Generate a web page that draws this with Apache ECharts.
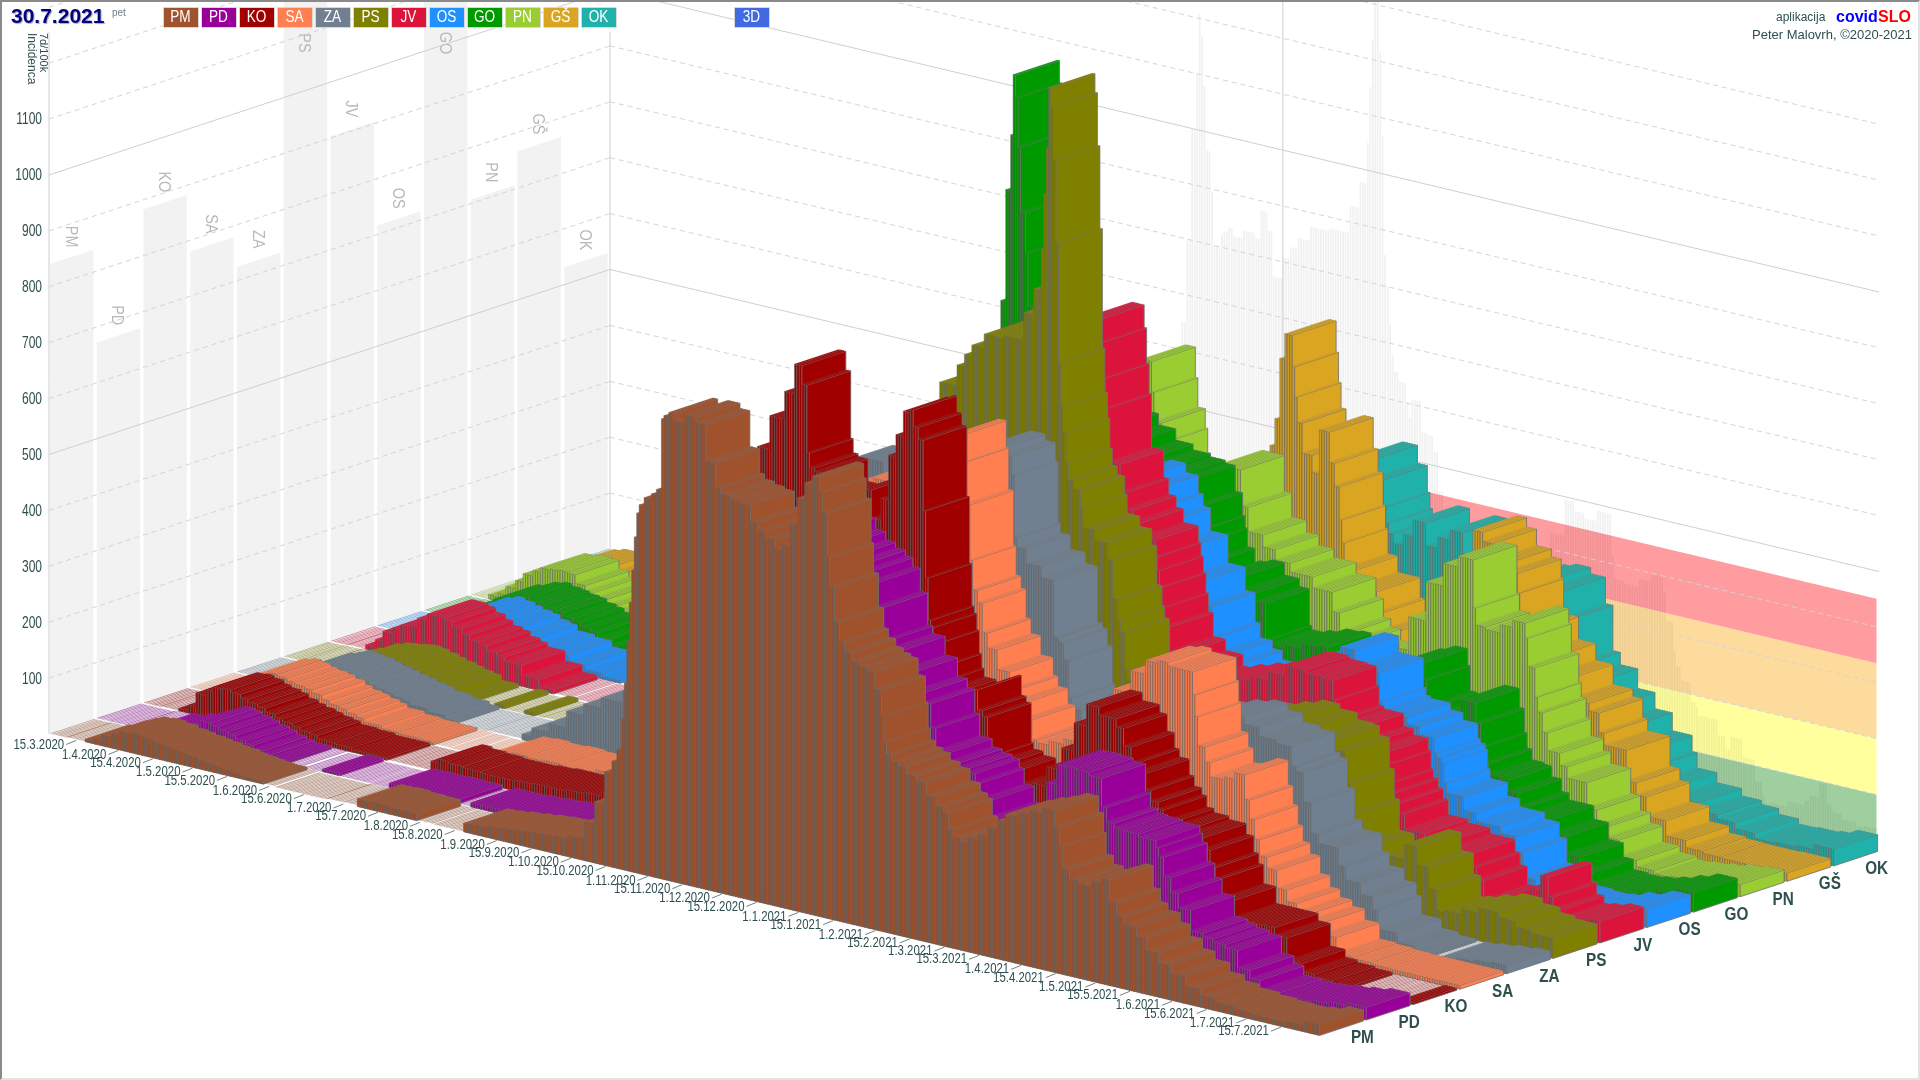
<!DOCTYPE html>
<html><head><meta charset="utf-8"><title>covidSLO</title>
<style>html,body{margin:0;padding:0;background:#fff;overflow:hidden}
#c{position:absolute;left:0;top:0;width:1920px;height:1080px}
#f{position:absolute;left:0;top:0;width:1916px;height:1076px;border:2px solid;border-color:#8a8a8a #e2e2e2 #e2e2e2 #8a8a8a;pointer-events:none}</style>
<script src="https://cdn.jsdelivr.net/npm/echarts@6/dist/echarts.min.js"></script></head>
<body><div id="c"></div><div id="f"></div>
<script>
// 7-day incidence, per region, as pairs: last day of a step (days since 4.3.2020), value of that step
const pm=[6,0,13,1,17,5,20,10,24,20,27,28,31,34,36,36,41,33,45,29,48,27,52,24,55,22,59,20,62,17,66,15,69,12,73,10,76,8,80,6,85,5,90,2,111,0,118,2,123,3,129,14,135,15,141,13,147,12,154,2,161,1,166,1,171,16,176,18,182,21,187,24,192,27,197,29,203,30,208,32,212,38,215,40,219,70,223,110,226,168,228,190,230,213,231,270,232,336,233,410,234,481,235,540,236,600,237,644,239,660,242,675,244,685,246,695,247,823,249,830,251,838,255,825,260,840,264,831,268,767,270,724,274,715,278,710,282,706,285,678,288,665,292,655,295,640,298,650,301,690,304,740,307,770,310,785,311,760,313,725,314,647,316,595,318,535,320,500,323,485,326,472,329,465,332,460,335,431,336,385,337,340,339,320,342,310,345,304,349,292,353,284,357,263,360,248,362,240,364,211,367,200,370,195,374,205,378,215,382,232,385,249,390,262,395,272,400,280,405,290,407,262,408,228,411,190,415,175,420,170,424,180,427,189,430,150,433,128,438,116,442,100,447,79,452,62,458,48,464,32,470,22,478,16,485,12,492,10,499,9,506,12,513,20];
const pd=[13,0,20,2,27,5,34,12,38,25,41,32,45,40,48,37,52,32,55,28,59,22,62,18,66,12,69,8,76,5,83,3,90,0,97,5,117,0,124,8,131,8,138,9,145,8,150,1,157,8,164,8,171,10,178,12,185,14,192,20,199,25,206,28,213,35,220,60,227,110,231,170,235,240,238,300,242,360,245,400,249,450,252,480,256,500,259,520,263,535,266,550,270,570,273,590,277,610,280,630,284,672,288,655,292,650,296,645,300,625,304,610,308,600,311,590,314,574,317,533,319,476,324,463,329,430,333,397,336,381,338,339,343,300,347,286,351,280,354,275,356,260,360,233,363,205,367,195,371,200,375,212,379,225,383,245,387,290,391,326,395,327,400,325,405,320,407,270,410,245,414,238,420,236,427,232,428,220,430,205,433,172,436,147,441,122,446,86,450,80,455,75,460,70,465,40,469,26,476,10,483,8,490,10,497,14,504,18,513,23];
const ko=[6,0,13,1,17,5,20,15,24,40,27,50,31,58,34,60,38,56,41,50,45,46,48,42,52,35,55,30,59,26,62,22,66,18,69,15,76,10,83,8,90,5,97,5,111,2,115,2,118,18,122,25,128,22,135,20,142,18,149,18,156,20,163,22,170,22,177,25,184,28,191,35,198,45,205,70,212,110,219,160,226,250,233,350,240,480,244,620,247,706,252,720,258,780,262,830,265,883,267,850,268,730,270,705,274,700,278,660,282,630,286,610,290,640,293,690,297,640,300,680,303,760,306,800,309,845,310,851,312,822,314,801,315,676,316,557,317,482,318,470,319,441,320,400,321,375,326,360,331,350,335,358,336,378,338,343,340,333,341,263,345,252,350,245,353,220,358,225,364,235,370,270,375,310,380,360,385,399,392,385,395,371,398,341,400,314,404,300,406,272,409,254,411,242,414,222,420,215,427,209,430,190,432,161,434,143,439,109,444,79,456,79,461,66,467,26,472,12,479,8,486,5,507,3,513,4];
const sa=[6,0,13,2,17,8,20,20,24,35,27,45,31,55,34,60,38,57,41,53,45,50,48,47,52,42,55,35,59,30,62,27,66,22,69,18,76,12,83,8,90,6,97,5,104,3,111,2,118,1,124,4,129,18,135,20,142,18,149,20,156,18,163,20,170,25,177,30,184,35,191,45,198,60,205,90,212,130,219,200,226,280,233,360,240,430,247,500,254,540,261,560,268,610,275,650,282,665,289,660,296,650,303,660,308,700,311,780,312,732,314,658,315,560,317,508,319,487,321,436,325,410,330,376,332,345,336,327,339,300,341,265,346,262,352,270,358,280,365,300,372,340,379,390,385,430,390,455,394,460,404,454,405,414,406,376,409,325,411,299,413,274,417,275,421,280,425,292,427,249,429,216,431,182,434,154,438,135,442,104,446,84,451,70,456,59,462,40,469,12,476,10,483,8,490,7,513,7];
const za=[6,0,13,1,17,4,20,10,24,20,27,30,31,38,34,44,38,50,41,48,45,46,48,42,52,38,55,34,59,30,62,27,66,23,69,20,76,15,83,10,87,5,100,1,114,2,118,10,125,25,132,40,139,70,146,90,155,109,162,130,169,100,176,90,183,100,190,120,197,150,204,200,211,270,218,340,225,420,232,500,239,560,246,600,253,640,260,650,267,620,274,640,281,660,288,670,295,680,302,700,308,725,312,714,313,682,314,572,318,555,324,530,329,511,331,411,333,403,335,374,336,308,340,290,346,270,352,260,358,250,365,240,372,270,379,290,386,310,393,330,400,340,406,347,412,335,419,320,425,315,427,281,430,273,433,222,436,169,444,154,447,123,453,100,458,80,460,59,468,26,475,10,482,5,486,3,492,4,499,8,506,12,513,15];
const ps=[6,0,13,1,17,3,20,6,24,12,27,18,31,27,34,33,38,35,41,38,45,40,48,38,52,34,55,30,59,26,62,22,66,18,69,15,76,6,84,1,88,6,96,0,100,6,104,1,118,2,125,5,132,8,139,10,146,12,153,15,160,15,167,18,174,22,181,30,188,40,195,55,202,80,209,110,216,160,223,220,227,280,231,340,235,400,239,470,243,520,250,580,257,640,264,700,271,770,274,808,277,830,282,850,290,875,298,880,302,930,305,977,306,1050,307,1150,308,1234,309,1343,310,1310,311,1216,312,1069,313,856,314,778,315,733,316,680,318,651,321,636,322,604,327,571,332,553,334,525,336,456,337,421,339,400,340,334,342,319,345,257,352,240,359,220,366,210,373,230,380,270,387,290,394,300,401,310,408,320,415,312,422,300,424,298,428,281,430,227,432,175,438,120,445,100,452,115,457,142,462,110,465,73,468,36,475,40,482,50,490,59,497,50,503,41,513,36];
const jv=[6,0,13,1,17,8,20,22,24,40,27,50,31,58,34,62,38,78,41,90,45,90,48,86,52,78,55,70,59,62,62,58,66,50,69,45,76,38,83,20,89,8,97,2,166,1,180,2,187,5,194,10,198,15,203,20,210,40,217,70,224,110,231,180,238,280,245,400,252,500,259,600,266,680,273,720,280,760,287,780,294,790,300,810,305,860,310,903,311,863,312,800,313,747,318,652,320,603,323,575,326,555,332,531,333,502,334,479,335,450,336,415,338,382,343,340,350,320,357,300,364,310,371,320,378,330,385,345,393,363,400,358,404,356,405,322,407,288,415,283,419,260,425,249,426,228,427,196,429,181,431,165,433,148,441,121,450,115,460,105,462,83,465,62,469,30,472,22,479,20,484,40,488,70,491,96,493,62,496,42,500,29,506,33,513,39];
const os=[13,0,17,4,20,12,24,22,27,32,31,45,34,52,38,62,41,68,45,64,48,60,52,56,55,53,59,46,62,42,69,32,76,28,83,18,90,10,97,5,104,2,150,1,164,2,171,5,178,8,185,12,192,18,199,30,206,60,213,110,217,150,220,200,224,270,227,320,231,400,234,460,236,620,238,716,242,690,246,660,253,640,260,620,267,610,274,600,281,590,288,580,295,575,302,580,308,590,313,574,315,543,318,521,325,480,332,430,336,388,338,336,343,310,347,296,354,280,361,270,368,270,375,300,382,330,388,350,394,372,404,343,405,291,407,278,415,274,420,262,426,249,427,223,429,216,430,207,431,173,438,156,443,132,453,118,459,107,462,81,467,38,474,15,481,10,488,8,495,10,505,20,513,33];
const go=[6,0,13,1,17,6,20,18,24,30,27,40,31,50,34,55,38,62,41,66,45,62,48,60,52,56,55,54,59,48,62,44,66,38,69,33,73,25,76,15,83,3,90,2,97,8,104,1,111,1,118,5,125,1,132,8,139,10,160,1,167,2,174,3,181,5,188,25,195,40,202,60,206,85,209,110,213,160,216,210,220,300,223,370,227,480,230,560,232,650,234,800,236,1000,237,1100,238,1209,239,1170,240,1082,242,967,243,896,250,800,257,740,264,700,271,660,278,620,285,600,292,580,299,570,305,565,309,560,312,514,313,474,314,453,317,420,319,392,324,400,329,407,335,385,339,371,340,306,347,299,354,305,360,315,364,318,371,290,378,270,385,280,392,300,398,320,403,331,404,302,407,257,409,240,413,235,418,260,424,282,426,248,427,206,429,179,434,160,437,157,441,138,444,116,454,104,460,80,466,50,470,25,476,7,483,5,490,8,497,15,504,25,513,35];
const pn=[6,0,10,8,13,15,17,30,20,45,24,60,27,70,31,78,34,80,38,82,41,80,45,65,48,55,52,45,55,35,59,27,62,20,66,8,70,2,139,1,153,2,160,3,167,5,174,8,181,15,188,20,195,30,202,50,209,80,216,130,223,200,230,300,237,400,244,500,251,560,258,600,265,630,270,670,274,707,275,653,278,601,279,567,280,524,287,500,294,510,301,530,310,551,313,487,319,444,324,423,330,405,339,390,347,371,350,337,353,304,357,290,364,270,371,260,378,300,385,360,392,430,398,470,404,489,405,404,409,374,415,370,420,385,425,398,426,372,429,322,430,271,432,245,434,211,439,180,442,159,450,139,454,94,458,68,463,50,470,21,477,10,484,5,491,8,498,12,505,18,513,22];
const gs=[6,0,10,8,13,18,17,30,20,42,24,50,27,55,34,55,38,45,41,38,45,30,48,26,52,22,55,18,62,10,69,5,76,3,174,1,181,2,188,3,195,8,202,15,209,25,216,40,223,65,230,100,237,150,244,210,251,280,258,340,265,380,272,400,279,420,286,440,293,450,300,470,303,520,305,560,307,610,309,720,312,766,313,711,314,658,316,613,320,560,323,530,327,609,329,555,331,515,332,457,333,417,337,372,346,343,348,307,353,277,354,248,360,245,367,240,374,250,381,300,385,430,389,495,393,479,399,450,403,436,404,402,410,340,417,300,424,270,432,234,436,221,438,187,447,166,451,112,455,91,463,57,471,30,478,18,485,15,500,14,513,15];
const ok=[13,1,17,5,20,12,24,25,27,35,31,45,34,50,38,48,41,45,45,35,48,30,52,24,55,20,62,10,69,3,174,1,181,2,188,5,195,10,202,15,209,25,216,40,223,60,230,90,237,130,244,170,251,210,258,250,265,280,272,300,279,320,286,340,293,360,300,380,307,410,314,450,320,500,326,531,330,499,331,452,332,424,334,406,338,390,342,410,347,440,352,400,357,420,362,438,367,400,372,375,378,340,385,360,390,380,396,386,402,375,405,328,408,247,415,225,422,190,429,161,437,129,439,100,447,73,457,55,465,42,472,35,480,25,488,16,497,18,504,21,513,30];

const regionNames=['PM','PD','KO','SA','ZA','PS','JV','OS','GO','PN','GŠ','OK'];
const regionColors=['#a0522d','#990099','#a00000','#ff7f50','#708090','#808000','#dc143c','#1e90ff','#009900','#9acd32','#daa520','#20b2aa'];
const regionSteps=[pm,pd,ko,sa,za,ps,jv,os,go,pn,gs,ok];
const dateTicks=['15.3.2020','1.4.2020','15.4.2020','1.5.2020','15.5.2020','1.6.2020','15.6.2020','1.7.2020','15.7.2020','1.8.2020','15.8.2020','1.9.2020','15.9.2020','1.10.2020','15.10.2020','1.11.2020','15.11.2020','1.12.2020','15.12.2020','1.1.2021','15.1.2021','1.2.2021','15.2.2021','1.3.2021','15.3.2021','1.4.2021','15.4.2021','1.5.2021','15.5.2021','1.6.2021','15.6.2021','1.7.2021','15.7.2021'];
const axisLevels=[100,200,300,400,500,600,700,800,900,1000,1100];
const gridLevels=[100,200,300,400,500,600,700,800,900,1000,1100,1200,1300];
const zones=[[0,100,'#9fce9f'],[100,200,'#ffff9e'],[200,335,'#fddb9c'],[335,450,'#ff9c9f']];

const DAYS=513, FONT='"Liberation Sans",sans-serif';
const ROW_DX=561/12, ROW_DY=-185/12, DAY_DY=302/513, ROWS=12;
const INK='#2f4f4f';
const day0=Date.UTC(2020,2,4);
const dayOf=s=>{const p=s.split('.').map(Number);return Math.round((Date.UTC(p[2],p[1]-1,p[0])-day0)/864e5);};
const P=(api,d,r,v)=>{const c=api.coord([d,v]);return [c[0]+r*ROW_DX,c[1]+d*DAY_DY+r*ROW_DY];};
const shade=(hex,f)=>{const n=parseInt(hex.slice(1),16);const c=[n>>16,(n>>8)&255,n&255].map(x=>Math.round(x*f));return 'rgb('+c.join(',')+')';};
const expand=a=>{const out=[];for(let k=0;k<a.length;k+=2){while(out.length<=a[k]&&out.length<DAYS)out.push(a[k+1]);}return out;};
const regionValues=regionSteps.map(expand);
const series=[];
const days=[...Array(DAYS).keys()];
const dayMax=days.map(d=>Math.max(...regionValues.map(a=>a[d])));
const regionMax=regionValues.map(a=>Math.max(...a));

const poly=(pts,fill,extra)=>({type:'polygon',shape:{points:pts},style:Object.assign({fill:fill},extra||{}),silent:true});
const line=(pts,stroke,dash,w)=>({type:'polyline',shape:{points:pts},style:{stroke:stroke,fill:null,lineWidth:w||1,lineDash:dash||null},silent:true});
const txt=(x,y,t,font,fill,align,base,rot,sx)=>({type:'text',x:x,y:y,rotation:rot||0,scaleX:sx||1,style:{text:t,font:font,fill:fill,align:align||'center',verticalAlign:base||'middle'},silent:true});

series.push({type:'custom',z:1,silent:true,data:zones.map(z=>[272,z[0],z[1]]),renderItem:(p,api)=>{
  const z=zones[p.dataIndex],a=272,b=512;
  return poly([P(api,a,ROWS,z[0]),P(api,b,ROWS,z[0]),P(api,b,ROWS,z[1]),P(api,a,ROWS,z[1])],z[2]);
}});
series.push({type:'custom',z:2,silent:true,data:days.map(d=>[d,dayMax[d]]),renderItem:(p,api)=>{
  const d=api.value(0),v=api.value(1);
  return poly([P(api,d,ROWS,0),P(api,d+0.72,ROWS,0),P(api,d+0.72,ROWS,v),P(api,d,ROWS,v)],'rgba(0,0,0,0.055)');
}});
series.push({type:'custom',z:2,silent:true,data:regionMax.map((v,i)=>[0,v]),renderItem:(p,api)=>{
  const i=p.dataIndex,v=api.value(1),r0=i+0.02,r1=i+0.95;
  const m=P(api,0,i+0.5,v);
  return {type:'group',children:[
    poly([P(api,0,r0,0),P(api,0,r1,0),P(api,0,r1,v),P(api,0,r0,v)],'rgba(0,0,0,0.052)'),
    txt(m[0]-2,Math.max(m[1]-20,43),regionNames[i],'17px '+FONT,'#b8b8b8','center','middle',-Math.PI/2,0.85)
  ]};
}});
series.push({type:'custom',z:3,silent:true,data:gridLevels.map(v=>[0,v]),renderItem:(p,api)=>{
  const v=api.value(1),solid=v%500===0,dash=solid?null:[5,4];
  const col=solid?'#cfcfcf':'#d4d4d4';
  return {type:'group',children:[line([P(api,0,0,v),P(api,0,ROWS,v)],col,dash),line([P(api,0,ROWS,v),P(api,DAYS,ROWS,v)],col,dash)]};
}});
series.push({type:'custom',z:3,silent:true,data:[[0,1255,0],[0,925,ROWS],[272,1400,ROWS]],renderItem:(p,api)=>{
  const d=api.value(0),v=api.value(1),r=api.value(2);
  return line([P(api,d,r,0),P(api,d,r,v)],'#cfcfcf');
}});
series.push({type:'custom',z:40,silent:true,data:axisLevels.map(v=>[0,v]),renderItem:(p,api)=>{
  const a=P(api,0,0,api.value(1));
  return txt(a[0]-7,a[1]+1,String(api.value(1)),'16px '+FONT,INK,'right','middle',0,0.75);
}});
for(let i=ROWS-1;i>=0;i--){
  const col=regionColors[i],vals=regionValues[i],side=shade(col,0.95);
  series.push({type:'custom',name:regionNames[i],z:10+ROWS-i,silent:true,progressive:0,
    data:days.map(d=>[d,vals[d]]),
    renderItem:(p,api)=>{
      const v=api.value(1),d0=api.value(0),r0=i+0.03,r1=i+0.97;
      if(v<=3){ // nearly empty days leave only a thin stripe on the floor
        const d1=d0+0.55;
        return poly([P(api,d0,r0,v),P(api,d1,r0,v),P(api,d1,r1,v),P(api,d0,r1,v)],col,{opacity:0.55,stroke:'rgba(110,110,110,0.7)',lineWidth:0.3});
      }
      const d1=d0+1;
      return {type:'group',children:[
        poly([P(api,d0,r0,0),P(api,d1,r0,0),P(api,d1,r0,v),P(api,d0,r0,v)],side,{stroke:'rgba(95,95,95,0.85)',lineWidth:0.55}),
        poly([P(api,d1,r0,0),P(api,d1,r1,0),P(api,d1,r1,v),P(api,d1,r0,v)],col,{stroke:'rgb(112,112,112)',lineWidth:0.85}),
        poly([P(api,d0,r0,v),P(api,d1,r0,v),P(api,d1,r1,v),P(api,d0,r1,v)],col,{stroke:'rgba(120,120,120,0.5)',lineWidth:0.3})
      ]};
    }});
}
series.push({type:'custom',z:40,silent:true,data:dateTicks.map(t=>[dayOf(t),0]),renderItem:(p,api)=>{
  const a=P(api,api.value(0),0,0);
  return {type:'group',children:[line([[a[0],a[1]],[a[0]-10,a[1]+4]],INK,null,0.7),
    txt(a[0]-12,a[1]+4,dateTicks[p.dataIndex],'15px '+FONT,INK,'right','middle',0,0.76)]};
}});
series.push({type:'custom',z:40,silent:true,data:regionNames.map((n,i)=>[DAYS,0]),renderItem:(p,api)=>{
  const a=P(api,DAYS,p.dataIndex+0.5,0);
  return txt(a[0]+21,a[1]+10,regionNames[p.dataIndex],'bold 18px '+FONT,INK,'center','middle',0,0.85);
}});

const legend=regionNames.map((n,i)=>[
  {type:'rect',left:163+i*38,top:7,shape:{width:35,height:20,r:1},style:{fill:regionColors[i],stroke:'#d8d8d8',lineWidth:1},z:50},
  {type:'text',x:163+i*38+17.5,y:17.5,scaleX:0.8,style:{text:n,font:'17px '+FONT,fill:'#fff',align:'center',verticalAlign:'middle'},z:51}
]).flat();
const graphic=legend.concat([
  {type:'rect',left:734,top:7,shape:{width:35,height:20,r:1},style:{fill:'#4169e1',stroke:'#d8d8d8',lineWidth:1},z:50},
  {type:'text',x:751.5,y:17.5,scaleX:0.8,style:{text:'3D',font:'17px '+FONT,fill:'#fff',align:'center',verticalAlign:'middle'},z:51},
  {type:'text',left:11,top:7,style:{text:'30.7.2021',font:'bold 21px "Liberation Sans"',fill:'#000080',textShadowColor:'#aaa',textShadowBlur:1,textShadowOffsetX:1,textShadowOffsetY:1},z:51},
  {type:'text',left:112,top:8,style:{text:'pet',font:'10px "Liberation Sans"',fill:'#708090'},z:51},
  {type:'text',x:31,y:33,rotation:-Math.PI/2,style:{text:'Incidenca',font:'12px "Liberation Sans"',fill:INK,align:'left',verticalAlign:'middle'},z:51},
  {type:'text',x:43,y:33,rotation:-Math.PI/2,style:{text:'7d/100k',font:'11px "Liberation Sans"',fill:INK,align:'left',verticalAlign:'middle'},z:51},
  {type:'text',x:1776,y:12,style:{text:'aplikacija',font:'12px "Liberation Sans"',fill:INK},z:51},
  {type:'text',x:1836,y:10,style:{text:'covid',font:'bold 16px "Liberation Sans"',fill:'#0000ff'},z:51},
  {type:'text',x:1878,y:10,style:{text:'SLO',font:'bold 16px "Liberation Sans"',fill:'#ff0000'},z:51},
  {type:'text',x:1752,y:29,style:{text:'Peter Malovrh, ©2020-2021',font:'13px "Liberation Sans"',fill:INK},z:51}
]);

const chart=echarts.init(document.getElementById('c'),null,{renderer:'canvas',width:1920,height:1080});
chart.setOption({
  animation:false,backgroundColor:'#ffffff',tooltip:{show:false},
  grid:{left:49,top:0,width:1269,height:734,show:false,containLabel:false},
  xAxis:{type:'value',min:0,max:DAYS,show:false},
  yAxis:{type:'value',min:0,max:1313,show:false},
  graphic:graphic,series:series
});
</script></body></html>
